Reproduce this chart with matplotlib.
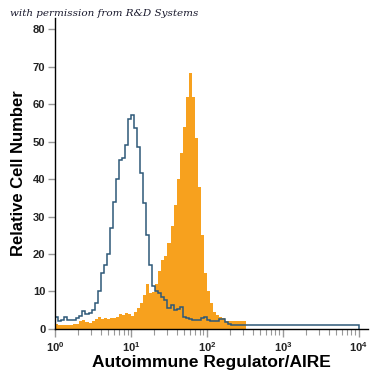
import numpy as np
import matplotlib
matplotlib.use("Agg")
import matplotlib.pyplot as plt
from matplotlib.ticker import LogLocator, NullFormatter

plt.rcParams['font.family'] = ['Liberation Sans', 'DejaVu Sans']

# histogram bins in log10 units (0.04 decade each), last blue bin is wide
bin_width = 0.04

# isotype control (blue outline), one value per bin from 10^0
control_counts = [3.3, 2.0, 2.5, 3.3, 2.3, 2.3, 2.3, 2.8, 3.5, 4.9,
                  4.0, 4.2, 5.0, 7.0, 10.0, 15.0, 17.0, 20.0, 27.0, 34.0,
                  40.0, 45.0, 45.5, 49.0, 56.0, 57.0, 53.6, 48.6, 41.6, 33.6,
                  25.0, 17.0, 11.5, 10.0, 9.5, 8.6, 7.7, 5.6, 6.4, 5.0,
                  5.2, 5.9, 3.2, 2.9, 2.6, 2.4, 2.4, 2.4, 3.0, 3.3,
                  2.4, 2.0, 2.0, 2.2, 2.6, 2.6, 1.8, 1.3]
control_tail = 1.0   # flat level out to 10^4
control_end = 4.0

# AIRE stained cells (orange filled)
aire_counts = [1.2, 1.0, 1.0, 1.1, 1.0, 1.0, 1.2, 1.4, 2.2, 2.4,
               1.8, 1.6, 2.0, 2.6, 3.3, 2.6, 2.8, 2.6, 2.8, 2.8,
               3.2, 4.0, 3.6, 4.2, 4.0, 3.5, 4.5, 5.5, 7.0, 9.0,
               12.0, 9.5, 9.8, 12.0, 15.5, 18.4, 19.5, 23.0, 27.5, 33.0,
               40.0, 47.0, 54.0, 62.0, 68.3, 62.0, 51.0, 38.0, 25.0, 15.0,
               10.0, 7.0, 4.5, 3.7, 3.2, 3.0, 2.2, 2.2, 2.0, 2.2,
               2.0, 2.2, 2.0]

y_ticks = [0, 10, 20, 30, 40, 50, 60, 70, 80]

fig = plt.figure(figsize=(3.75, 3.75), dpi=100)
ax = fig.add_axes([0.147, 0.123, 0.834, 0.829])

# orange histogram
a_edges = 10 ** (np.arange(len(aire_counts) + 1) * bin_width)
ax.stairs(aire_counts, a_edges, fill=True, color='#F7A11E', linewidth=0)

# control outline
c_edges = list(np.arange(len(control_counts) + 1) * bin_width) + [control_end]
c_vals = control_counts + [control_tail]
ax.stairs(c_vals, 10 ** np.array(c_edges), color='#2d5878', linewidth=1.1)

ax.set_xscale('log')
ax.set_xlim(1, 10 ** 4.12)
ax.set_ylim(0, 83)

ax.set_yticks(y_ticks)
ax.xaxis.set_major_locator(LogLocator(base=10, numticks=10))
ax.xaxis.set_minor_locator(LogLocator(base=10, subs=np.arange(2, 10), numticks=20))
ax.xaxis.set_minor_formatter(NullFormatter())

for s in ['top', 'right']:
    ax.spines[s].set_visible(False)
ax.spines['left'].set_linewidth(1.0)
ax.spines['bottom'].set_linewidth(1.0)

ax.tick_params(axis='y', length=5, width=1, color='#999999', pad=2,
               labelsize=8, labelcolor='#222222')
ax.tick_params(axis='x', which='major', length=6, width=1, color='#999999',
               pad=2, labelsize=8, labelcolor='#222222')
ax.tick_params(axis='x', which='minor', length=4, width=0.8, color='#999999')
for lbl in ax.get_yticklabels() + ax.get_xticklabels():
    lbl.set_fontweight('bold')

ax.set_ylabel('Relative Cell Number', fontsize=12, fontweight='bold', labelpad=5)
ax.set_xlabel('Autoimmune Regulator/AIRE', fontsize=12.5, fontweight='bold', labelpad=1)

fig.text(0.027, 0.958, 'with permission from R&D Systems', fontsize=7.5,
         style='italic', family='DejaVu Serif', color='#1a1a2e')

plt.savefig('out.png', dpi=100)
